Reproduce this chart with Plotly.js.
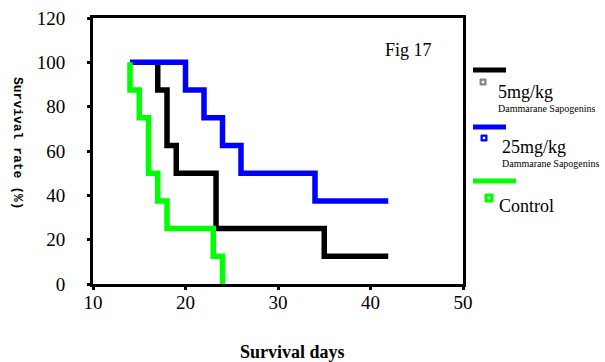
<!DOCTYPE html>
<html><head><meta charset="utf-8">
<script src="https://cdn.plot.ly/plotly-3.0.1.min.js"></script>
<style>body{margin:0;background:#fff}#chart{width:605px;height:362px}</style>
</head><body><div id="chart"></div>
<script>
// Data (Kaplan-Meier steps)
var seriesNames = ["5mg/kg", "25mg/kg", "Control"];
var seriesSub = ["Dammarane Sapogenins", "Dammarane Sapogenins", ""];
var seriesColors = ["#000000", "#0000ff", "#00ff00"];
var daysLow = [17, 17, 18, 19, 23.3, 35, 42];
var rateLow = [100, 87.5, 62.5, 50, 25, 12.5, 12.5];
var daysHigh = [14, 20, 22, 24, 26, 34, 42];
var rateHigh = [100, 87.5, 75, 62.5, 50, 37.5, 37.5];
var daysCtrl = [14, 14, 15, 16, 17, 18, 23, 24];
var rateCtrl = [100, 87.5, 75, 50, 37.5, 25, 12.5, 0];
var xTicks = [10, 20, 30, 40, 50];
var yTicks = [0, 20, 40, 60, 80, 100, 120];

var W = 605, H = 362, L = 93, R = 463, T = 18, B = 284;
function px(x) { return (x - L) / (R - L); }
function py(y) { return (B - y) / (B - T); }

var xs = [daysLow, daysHigh, daysCtrl], ys = [rateLow, rateHigh, rateCtrl];
var traces = [];
for (var i = 0; i < 3; i++) {
  traces.push({x: xs[i], y: ys[i], type: 'scatter', mode: 'lines', line: {shape: 'hv', color: seriesColors[i], width: 5.5}, name: seriesNames[i], showlegend: false, hoverinfo: 'skip'});
}
// censor ticks at the end of the surviving curves
traces.push({x: [daysLow[daysLow.length - 1], daysHigh[daysHigh.length - 1]], y: [rateLow[rateLow.length - 1], rateHigh[rateHigh.length - 1]], type: 'scatter', mode: 'markers', marker: {symbol: 'line-ns', size: 4, line: {color: '#ffffff', width: 1.5}}, showlegend: false, hoverinfo: 'skip'});

var serif = "Liberation Serif";
var shapes = [], annotations = [];
// legend samples
var legY = [70, 127, 181];
var legX1 = [506, 506, 516];
var sqY = [82, 138, 198], sqX = [483, 484, 489], sqS = [3, 3, 4];
var sqFill = ["#888888", "#0000ff", "#00ff00"];
var txtY = [92, 147, 206], txtX = [496, 500, 497], subY = [108, 163];
for (var i = 0; i < 3; i++) {
  shapes.push({type: 'line', xref: 'paper', yref: 'paper', x0: px(473), x1: px(legX1[i]), y0: py(legY[i]), y1: py(legY[i]), line: {color: seriesColors[i], width: 5}});
  shapes.push({type: 'rect', xref: 'paper', yref: 'paper', x0: px(sqX[i] - sqS[i]), x1: px(sqX[i] + sqS[i]), y0: py(sqY[i] + sqS[i]), y1: py(sqY[i] - sqS[i]), line: {color: sqFill[i], width: 1}, fillcolor: sqFill[i]});
  shapes.push({type: 'rect', xref: 'paper', yref: 'paper', x0: px(sqX[i] - 1.2), x1: px(sqX[i] + 1.2), y0: py(sqY[i] + 1.2), y1: py(sqY[i] - 1.2), line: {width: 0}, fillcolor: '#ffffff'});
  annotations.push({xref: 'paper', yref: 'paper', x: px(txtX[i]), y: py(txtY[i]), xanchor: 'left', yanchor: 'middle', text: seriesNames[i], showarrow: false, font: {family: serif, size: 18, color: '#000'}});
  if (seriesSub[i]) annotations.push({xref: 'paper', yref: 'paper', x: px(txtX[i]), y: py(subY[i]), xanchor: 'left', yanchor: 'middle', text: seriesSub[i], showarrow: false, font: {family: serif, size: 10, color: '#000'}});
}
annotations.push({xref: 'paper', yref: 'paper', x: px(383), y: py(50), xanchor: 'left', yanchor: 'middle', text: 'Fig 17', showarrow: false, font: {family: serif, size: 18, color: '#000'}});
annotations.push({xref: 'paper', yref: 'paper', x: px(292), y: py(352), xanchor: 'center', yanchor: 'middle', text: '<b>Survival days</b>', showarrow: false, font: {family: serif, size: 18, color: '#000'}});
annotations.push({xref: 'paper', yref: 'paper', x: px(18), y: py(143), xanchor: 'center', yanchor: 'middle', textangle: 90, text: '<b>Survival rate (%)</b>', showarrow: false, font: {family: "Liberation Mono", size: 13, color: '#000'}});

var layout = {
  width: W, height: H,
  font: {family: serif, color: '#000'},
  margin: {l: L, r: W - R, t: T, b: H - B, pad: 0},
  paper_bgcolor: '#fff', plot_bgcolor: '#fff',
  showlegend: false,
  xaxis: {range: [10, 50], tickvals: xTicks, ticktext: xTicks.map(String), showgrid: false, zeroline: false, showline: true, linecolor: '#000', linewidth: 3, mirror: true, ticks: 'outside', ticklen: 3, tickwidth: 3, tickcolor: '#000', ticklabelstandoff: -4, tickfont: {family: serif, size: 19, color: '#000'}},
  yaxis: {range: [0, 120], tickvals: yTicks, ticktext: yTicks.map(String), showgrid: false, zeroline: false, showline: true, linecolor: '#000', linewidth: 3, mirror: true, ticks: 'outside', ticklen: 3, tickwidth: 3, tickcolor: '#000', ticklabelstandoff: 18, tickfont: {family: serif, size: 19, color: '#000'}},
  shapes: shapes, annotations: annotations
};
Plotly.newPlot('chart', traces, layout, {displayModeBar: false, staticPlot: true});
</script></body></html>
